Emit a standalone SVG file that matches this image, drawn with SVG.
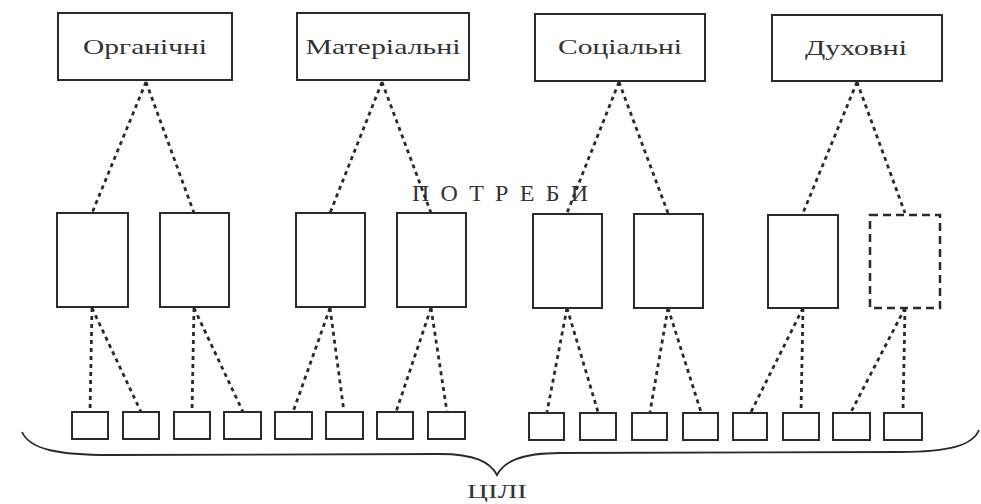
<svg xmlns="http://www.w3.org/2000/svg" width="981" height="504" viewBox="0 0 981 504">
<style>
.bg{fill:#ffffff}
.box{fill:none;stroke:#2a2a2a;stroke-width:2}
.dbox{fill:none;stroke:#2a2a2a;stroke-width:2.5;stroke-dasharray:8 5}
.lbl{font-family:"Liberation Serif","Times New Roman",serif;font-size:21px;fill:#333;text-anchor:middle}
.cap{font-family:"Liberation Serif","Times New Roman",serif;fill:#333;text-anchor:middle}
.dl{fill:none;stroke:#2a2a2a;stroke-width:2.8;stroke-dasharray:4 4}
.br{fill:none;stroke:#2a2a2a;stroke-width:1.8}
</style>
<rect class="bg" x="0" y="0" width="981" height="504"/>
<g id="connectors">
<line class="dl" x1="146" y1="82" x2="92" y2="213"/>
<line class="dl" x1="146" y1="82" x2="194" y2="213"/>
<line class="dl" x1="382" y1="82" x2="330" y2="213"/>
<line class="dl" x1="382" y1="82" x2="431" y2="213"/>
<line class="dl" x1="619" y1="82" x2="567" y2="213"/>
<line class="dl" x1="619" y1="82" x2="668" y2="213"/>
<line class="dl" x1="857" y1="82" x2="803" y2="213"/>
<line class="dl" x1="857" y1="82" x2="905" y2="213"/>
<line class="dl" x1="92" y1="308" x2="90" y2="412"/>
<line class="dl" x1="92" y1="308" x2="141" y2="412"/>
<line class="dl" x1="194" y1="308" x2="192" y2="412"/>
<line class="dl" x1="194" y1="308" x2="243" y2="412"/>
<line class="dl" x1="330" y1="308" x2="293" y2="412"/>
<line class="dl" x1="330" y1="308" x2="344" y2="412"/>
<line class="dl" x1="431" y1="308" x2="396" y2="412"/>
<line class="dl" x1="431" y1="308" x2="447" y2="412"/>
<line class="dl" x1="567" y1="308" x2="547" y2="412"/>
<line class="dl" x1="567" y1="308" x2="598" y2="412"/>
<line class="dl" x1="668" y1="308" x2="650" y2="412"/>
<line class="dl" x1="668" y1="308" x2="701" y2="412"/>
<line class="dl" x1="803" y1="308" x2="751" y2="412"/>
<line class="dl" x1="803" y1="308" x2="801" y2="412"/>
<line class="dl" x1="905" y1="308" x2="851" y2="412"/>
<line class="dl" x1="905" y1="308" x2="903" y2="412"/>
</g>
<g id="top-organic"><rect class="box" x="58" y="13" width="174" height="67"/><text class="lbl" x="145" y="54" textLength="124" lengthAdjust="spacingAndGlyphs">Органічні</text></g>
<g id="top-material"><rect class="box" x="297" y="13" width="172" height="67"/><text class="lbl" x="383" y="54" textLength="155" lengthAdjust="spacingAndGlyphs">Матеріальні</text></g>
<g id="top-social"><rect class="box" x="535" y="14" width="170" height="67"/><text class="lbl" x="620" y="54" textLength="124" lengthAdjust="spacingAndGlyphs">Соціальні</text></g>
<g id="top-spiritual"><rect class="box" x="772" y="15" width="170" height="66"/><text class="lbl" x="856" y="55" textLength="102" lengthAdjust="spacingAndGlyphs">Духовні</text></g>
<g id="label-potreby"><text class="cap" x="500" y="201" font-size="24" textLength="176" lengthAdjust="spacing">ПОТРЕБИ</text></g>
<g id="mid-1"><rect class="box" x="57" y="213" width="71" height="94"/></g>
<g id="mid-2"><rect class="box" x="160" y="213" width="69" height="94"/></g>
<g id="mid-3"><rect class="box" x="296" y="213" width="69" height="94"/></g>
<g id="mid-4"><rect class="box" x="397" y="213" width="69" height="94"/></g>
<g id="mid-5"><rect class="box" x="533" y="214" width="69" height="94"/></g>
<g id="mid-6"><rect class="box" x="634" y="214" width="69" height="94"/></g>
<g id="mid-7"><rect class="box" x="768" y="215" width="70" height="93"/></g>
<g id="mid-8"><rect class="dbox" x="870" y="215" width="70" height="93"/></g>
<g id="goal-1"><rect class="box" x="72" y="412" width="36" height="27"/></g>
<g id="goal-2"><rect class="box" x="123" y="412" width="36" height="27"/></g>
<g id="goal-3"><rect class="box" x="174" y="412" width="36" height="27"/></g>
<g id="goal-4"><rect class="box" x="224" y="412" width="37" height="27"/></g>
<g id="goal-5"><rect class="box" x="275" y="412" width="37" height="27"/></g>
<g id="goal-6"><rect class="box" x="326" y="412" width="37" height="27"/></g>
<g id="goal-7"><rect class="box" x="377" y="412" width="36" height="27"/></g>
<g id="goal-8"><rect class="box" x="428" y="412" width="37" height="27"/></g>
<g id="goal-9"><rect class="box" x="529" y="413" width="35" height="27"/></g>
<g id="goal-10"><rect class="box" x="580" y="413" width="36" height="27"/></g>
<g id="goal-11"><rect class="box" x="632" y="413" width="35" height="27"/></g>
<g id="goal-12"><rect class="box" x="683" y="413" width="35" height="27"/></g>
<g id="goal-13"><rect class="box" x="733" y="413" width="34" height="27"/></g>
<g id="goal-14"><rect class="box" x="783" y="413" width="36" height="27"/></g>
<g id="goal-15"><rect class="box" x="833" y="413" width="37" height="27"/></g>
<g id="goal-16"><rect class="box" x="884" y="413" width="38" height="27"/></g>
<g id="brace"><path class="br" d="M22 432 C30 450 60 455 110 455 L440 454 C475 454 490 462 497 475 C504 462 520 453 560 453 L900 452 C950 452 973 445 979 430"/></g>
<g id="label-tsili"><text class="cap" x="497" y="498" font-size="19" textLength="60" lengthAdjust="spacingAndGlyphs">ЦІЛІ</text></g>
</svg>
